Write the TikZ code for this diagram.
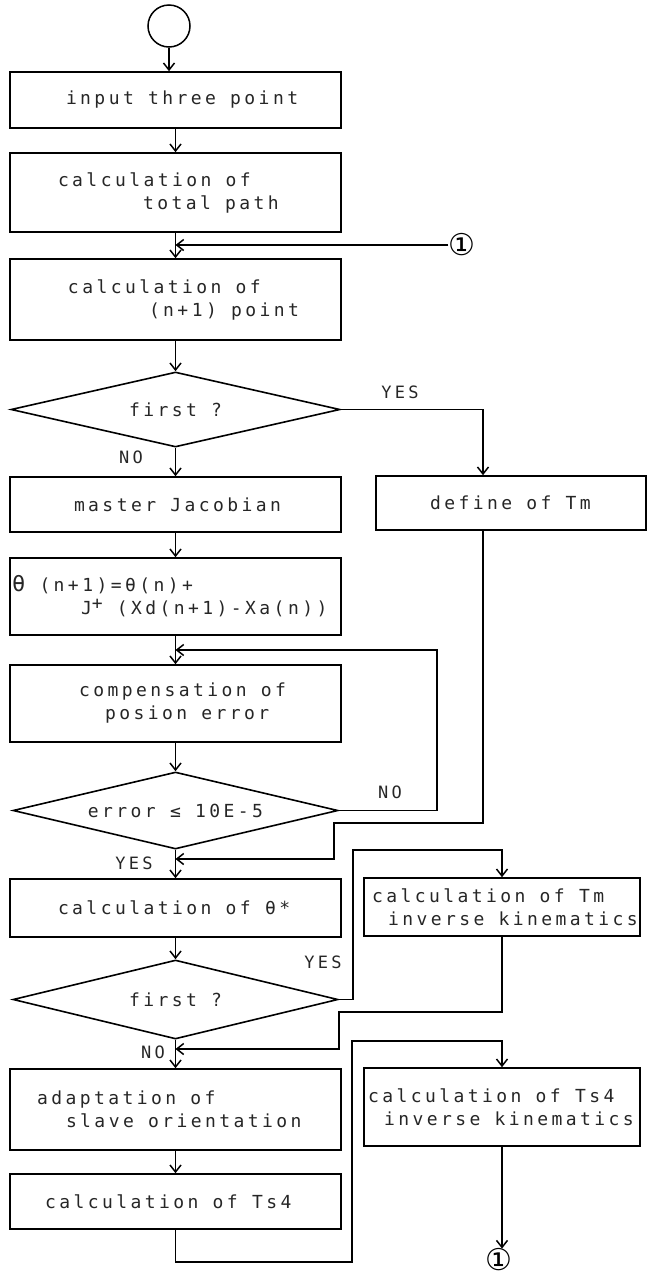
\documentclass[tikz,border=0pt]{standalone}
\usepackage{fontspec}
\usetikzlibrary{shapes.geometric,arrows.meta,calc}
\newfontfamily\dm[LetterSpace=19]{DejaVu Sans Mono}
\newfontfamily\symf{DejaVu Sans}
\newcommand\wsp{\spaceskip=14.26pt\xspaceskip=14.26pt\relax}
\begin{document}
\begin{tikzpicture}[x=1pt,y=-1pt,
  every node/.style={font=\dm\fontsize{18}{23}\selectfont, text=black!85},
  box/.style={draw, line width=1.6pt, inner xsep=0pt, inner ysep=0pt, align=left, text width=331pt},
  rbox/.style={box, text width=276pt},
  dec/.style={draw, diamond, line width=1.6pt, inner sep=0pt, aspect=4.3},
  arr/.style={draw, line width=1.5pt, -{Straight Barb[length=7pt,width=11pt,line width=1.5pt]}},
  lab/.style={font=\dm\fontsize{17}{20}\selectfont, inner sep=0pt},
  conn/.style={font=\symf\fontsize{30}{30}\selectfont, text=black, inner sep=0pt}
]
\useasboundingbox (0,0) rectangle (647,1280);

% start
\node[draw, circle, minimum size=42pt, line width=1.5pt, inner sep=0pt] (st) at (169,26) {};

% left column boxes
\node[box, minimum height=56pt] (b1) at (175.5,100) {\wsp\hspace*{56pt}input three point};
\node[box, minimum height=79pt] (b2) at (175.5,192.5) {\wsp\hspace*{48pt}calculation of\\\hspace*{133pt}total path};
\node[box, minimum height=81pt] (b3) at (175.5,299.5) {\wsp\hspace*{58pt}calculation of\\\hspace*{139pt}(n+1) point};
\node[dec, minimum width=329pt, minimum height=75pt] (d1) at (175.5,409.5) {first ?};
\node[box, minimum height=55pt] (jac) at (175.5,504.5) {\wsp\hspace*{64pt}master Jacobian};
\node[box, minimum height=77pt] (th) at (175.5,596.5) {\wsp\hspace*{2pt}{\fontsize{22}{23}\selectfont θ}~(n+1)=θ(n)+\\\hspace*{71pt}J\raisebox{5pt}{+}~(Xd(n+1)-Xa(n))\\[4pt]};
\node[box, minimum height=77pt] (comp) at (175.5,703.5) {\wsp\hspace*{69pt}compensation of\\\hspace*{95pt}posion error};
\node[dec, minimum width=325pt, minimum height=77pt] (d2) at (175.5,810.5) {error ≤ 10E-5};
\node[box, minimum height=58pt] (ths) at (175.5,908) {\wsp\hspace*{48pt}calculation of θ*};
\node[dec, minimum width=325pt, minimum height=79pt] (d3) at (175.5,999.5) {first ?};
\node[box, minimum height=81pt] (adapt) at (175.5,1109.5) {\wsp\hspace*{27pt}adaptation of\\\hspace*{56pt}slave orientation};
\node[box, minimum height=55pt] (ts4) at (175.5,1201.5) {\wsp\hspace*{35pt}calculation of Ts4};

% right column boxes
\node[box, text width=270pt, minimum height=54pt] (tmdef) at (511,503) {\wsp\hspace*{54pt}define of Tm};
\node[rbox, minimum height=58pt] (tminv) at (502,907) {\wsp\hspace*{8pt}calculation of Tm\\\hspace*{24pt}inverse kinematics};
\node[rbox, minimum height=78pt] (ts4inv) at (502,1107) {\wsp\hspace*{4pt}calculation of Ts4\\\hspace*{20pt}inverse kinematics};

% connectors (circled 1)
\node[conn] (c1) at (462,245) {①};
\node[conn] (c2) at (499,1260) {①};

% labels
\node[lab] (y1) at (400,392) {YES};
\node[lab] (n1) at (131,457) {NO};
\node[lab] (n2) at (390,792) {NO};
\node[lab] (y2) at (134,863) {YES};
\node[lab] (y3) at (323,962) {YES};
\node[lab] (n3) at (153,1052) {NO};

% waypoints
\coordinate (tmx) at (483,0);
\coordinate (l1) at (437,650);
\coordinate (w1) at (334,823);
\coordinate (w1b) at (334,859);
\coordinate (w2) at (353,850);
\coordinate (w3) at (339,1012);
\coordinate (w3b) at (339,1049);
\coordinate (w4) at (352,1262);
\coordinate (w4b) at (352,1041);

% main flow
\draw[arr] (st.south) -- (st.south |- b1.north);
\draw[arr] (b1.south) -- (b2.north);
\draw[arr] (b2.south) -- (b3.north);
\draw[arr] (c1.west) -- (c1.west -| b3.north);
\draw[arr] (b3.south) -- (d1.north);
\draw[arr] (d1.south) -- (jac.north);
\draw[arr] (d1.east) -| (tmdef.north -| tmx);
\draw[arr] (jac.south) -- (th.north);
\draw[arr] (th.south) -- (comp.north);
\draw[arr] (comp.south) -- (d2.north);
\draw[arr] (d2.east) -| (l1) -- (l1 -| comp.north);
\draw[arr] (tmdef.south -| tmx) |- (w1) -- (w1b) -- (w1b -| ths.north);
\draw[arr] (d2.south) -- (ths.north);
\draw[arr] (ths.south) -- (d3.north);
\draw[arr] (d3.east) -| (w2) -| (tminv.north);
\draw[arr] (tminv.south) |- (w3) -- (w3b) -- (w3b -| adapt.north);
\draw[arr] (d3.south) -- (adapt.north);
\draw[arr] (adapt.south) -- (ts4.north);
\draw[arr] (ts4.south) |- (w4) -- (w4b) -| (ts4inv.north);
\draw[arr] (ts4inv.south) -- (ts4inv.south |- c2.north);
\end{tikzpicture}
\end{document}
